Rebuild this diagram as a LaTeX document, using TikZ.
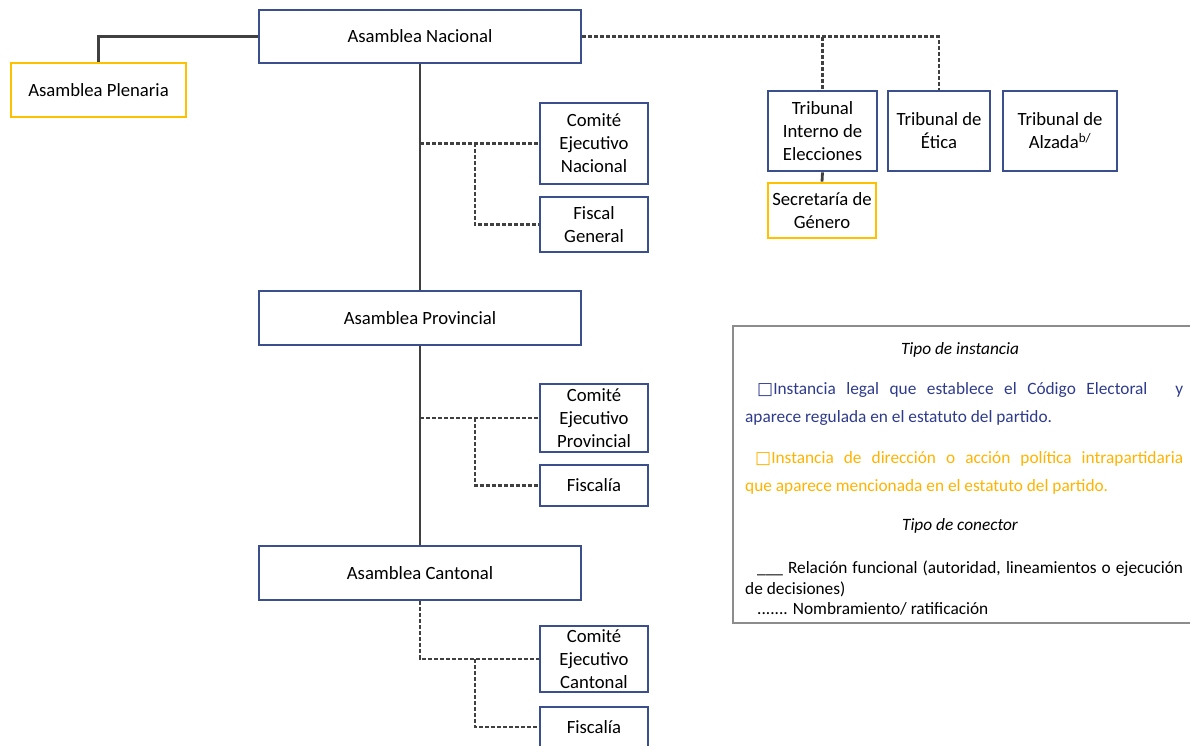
\documentclass[tikz,border=0pt]{standalone}
\usepackage{fontspec}
\setmainfont{Carlito}
\newfontfamily\symfont{DejaVu Sans}
\definecolor{boxblue}{HTML}{3B4F8E}
\definecolor{boxgold}{HTML}{FFC000}
\definecolor{linegray}{HTML}{404040}
\definecolor{legendgray}{HTML}{8C8C8C}
\definecolor{legblue}{HTML}{2E3B8C}
\definecolor{legorange}{HTML}{FFB300}
\tikzset{
  legal/.style={draw=boxblue, line width=2.8pt, align=center, inner sep=0pt,
    font=\fontsize{18.7}{23}\selectfont},
  politica/.style={legal, draw=boxgold},
  funcional/.style={draw=linegray, line width=2.8pt},
  nombra/.style={draw=linegray, line width=2.2pt, dash pattern=on 4pt off 2pt},
  leyenda/.style={anchor=base west, inner sep=0pt, font=\fontsize{17.3}{20}\selectfont},
}
\begin{document}
\begin{tikzpicture}[x=1pt,y=-1pt]
\useasboundingbox (0,0) rectangle (1190,746);

% -- asambleas
\node[legal, minimum width=322, minimum height=53] (nacional) at (420,36.5) {Asamblea Nacional};
\node[politica, minimum width=175, minimum height=54] (plenaria) at (98.5,90) {Asamblea Plenaria};
\node[legal, minimum width=322, minimum height=54] (provincial) at (420,318) {Asamblea Provincial};
\node[legal, minimum width=322, minimum height=54] (cantonal) at (420,573) {Asamblea Cantonal};

% -- comites y fiscalias
\node[legal, minimum width=108, minimum height=81] (cenac) at (594,143.5) {Comité\\Ejecutivo\\Nacional};
\node[legal, minimum width=108, minimum height=55] (fiscalgen) at (594,224.5) {Fiscal\\General};
\node[legal, minimum width=108, minimum height=68] (ceprov) at (594,418) {Comité\\Ejecutivo\\Provincial};
\node[legal, minimum width=108, minimum height=41] (fiscprov) at (594,485.5) {Fiscalía};
\node[legal, minimum width=108, minimum height=66] (cecant) at (594,659) {Comité\\Ejecutivo\\Cantonal};
\node[legal, minimum width=108, minimum height=40] (fisccant) at (594,727) {Fiscalía};

% -- tribunales
\node[legal, minimum width=109, minimum height=80] (tie) at (822.5,131) {Tribunal\\Interno de\\Elecciones};
\node[legal, minimum width=102, minimum height=80] (etica) at (939,131) {Tribunal de\\Ética};
\node[legal, minimum width=114, minimum height=80] (alzada) at (1060,131) {Tribunal de\\Alzada\textsuperscript{b/}};
\node[politica, minimum width=108, minimum height=55] (genero) at (822,210.5) {Secretaría de\\Género};

% -- conectores
\coordinate (n1) at (475,143.5);
\coordinate (p1) at (475,418);
\coordinate (c1) at (475,659);
\coordinate (t1) at (822.5,37);

\draw[funcional] (nacional.west) -| (plenaria.north);
\draw[funcional] (nacional.south) -- (provincial.north);
\draw[funcional] (provincial.south) -- (cantonal.north);
\draw[funcional] (tie.south) -- (genero.north);

\draw[nombra] (nacional.south |- cenac.west) -- (cenac.west);
\draw[nombra] (n1) |- (fiscalgen.west);
\draw[nombra] (provincial.south |- ceprov.west) -- (ceprov.west);
\draw[nombra] (p1) |- (fiscprov.west);
\draw[nombra] (cantonal.south) |- (cecant.west);
\draw[nombra] (c1) |- (fisccant.west);
\draw[nombra] (nacional.east) -| (etica.north);
\draw[nombra] (t1) -- (tie.north);

% -- leyenda
\node[draw=legendgray, line width=2pt, minimum width=462, minimum height=297, anchor=north west] (caja) at (732,325) {};
\node[leyenda, anchor=base, font=\fontsize{17.3}{20}\itshape] (tinst) at (960,354) {Tipo de instancia};
\node[leyenda, text=legblue] (leg1) at (757,394) {\makebox[426pt][s]{{\symfont\fontsize{17}{20}\selectfont □}Instancia legal que establece el Código Electoral \quad y}};
\node[leyenda, text=legblue] (leg2) at (745,422) {aparece regulada en el estatuto del partido.};
\node[leyenda, text=legorange] (leg3) at (755,463) {\makebox[428pt][s]{{\symfont\fontsize{17}{20}\selectfont □}Instancia de dirección o acción política intrapartidaria}};
\node[leyenda, text=legorange] (leg4) at (745,491) {que aparece mencionada en el estatuto del partido.};
\node[leyenda, anchor=base, font=\fontsize{17.3}{20}\itshape] (tcon) at (960,530) {Tipo de conector};
\node[leyenda] (leg5) at (757,573) {\makebox[426pt][s]{\_\_\_ Relación funcional (autoridad, lineamientos o ejecución}};
\node[leyenda] (leg6) at (745,594) {de decisiones)};
\node[leyenda] (leg7) at (757,614) {....... Nombramiento/ ratificación};
\end{tikzpicture}
\end{document}
